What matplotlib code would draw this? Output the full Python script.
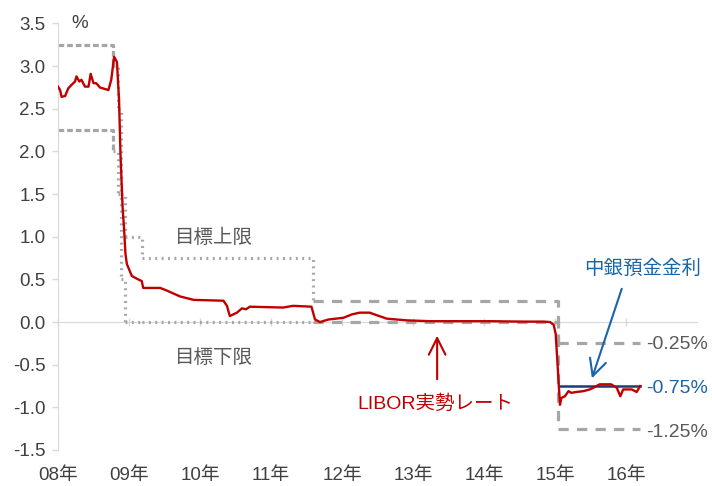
import matplotlib
matplotlib.use("Agg")
import matplotlib.pyplot as plt

plt.rcParams["font.family"] = ["Liberation Sans", "Noto Sans CJK JP", "DejaVu Sans"]

# LIBOR (3M CHF): decimal year, percent
libor_t = [2008.00, 2008.03, 2008.05, 2008.10, 2008.145, 2008.19, 2008.24, 2008.26, 2008.30,
           2008.33, 2008.38, 2008.43, 2008.46, 2008.50, 2008.54, 2008.59, 2008.71, 2008.75,
           2008.79, 2008.83, 2008.86, 2008.88, 2008.91, 2008.93, 2008.95, 2008.97, 2009.04,
           2009.13, 2009.18, 2009.20, 2009.44, 2009.53, 2009.72, 2009.91, 2010.33, 2010.38,
           2010.42, 2010.52, 2010.59, 2010.65, 2010.70, 2011.17, 2011.31, 2011.57, 2011.62,
           2011.69, 2011.81, 2012.02, 2012.14, 2012.25, 2012.39, 2012.49, 2012.63, 2012.91,
           2013.24, 2013.62, 2014.09, 2014.55, 2014.84, 2014.93, 2014.98, 2015.01, 2015.05,
           2015.07, 2015.09, 2015.14, 2015.19, 2015.23, 2015.30, 2015.40, 2015.49, 2015.54,
           2015.63, 2015.79, 2015.87, 2015.92, 2015.96, 2016.08, 2016.15, 2016.20]
libor_v = [2.76, 2.72, 2.64, 2.65, 2.74, 2.78, 2.82, 2.88, 2.82,
           2.84, 2.76, 2.76, 2.91, 2.80, 2.80, 2.75, 2.72, 2.84,
           3.11, 3.05, 2.60, 1.97, 1.34, 1.10, 0.80, 0.68, 0.54,
           0.50, 0.48, 0.40, 0.40, 0.37, 0.30, 0.26, 0.25, 0.19,
           0.07, 0.11, 0.16, 0.15, 0.18, 0.17, 0.19, 0.18, 0.03,
           0.00, 0.03, 0.05, 0.09, 0.11, 0.11, 0.08, 0.04, 0.02,
           0.01, 0.01, 0.01, 0.005, 0.005, 0.00, -0.03, -0.14, -0.69,
           -0.97, -0.89, -0.87, -0.81, -0.83, -0.82, -0.81, -0.79, -0.77,
           -0.73, -0.73, -0.77, -0.87, -0.79, -0.79, -0.82, -0.75]

# SNB target range changes
range_dates = [2008.00, 2008.77, 2008.85, 2008.89, 2008.94, 2009.19, 2011.59, 2015.04]
upper_lvls = [3.25, 3.00, 2.50, 1.50, 1.00, 0.75, 0.25, -0.25]
lower_lvls = [2.25, 2.00, 1.50, 0.50, 0.00, 0.00, 0.00, -1.25]
range_end = 2016.20

# sight deposit rate
deposit_t = [2015.05, 2016.20]
deposit_v = [-0.75, -0.75]

year_ticks = [2008, 2009, 2010, 2011, 2012, 2013, 2014, 2015, 2016]
year_labels = ["08年", "09年", "10年", "11年", "12年", "13年", "14年", "15年", "16年"]
y_ticks = [-1.5, -1.0, -0.5, 0.0, 0.5, 1.0, 1.5, 2.0, 2.5, 3.0, 3.5]

GRAY = "#A6A6A6"
AXIS = "#D9D9D9"
RED = "#C00000"
BLUE = "#1A64AA"
NAVY = "#1F3B70"
TXT = "#404040"


def period_style(i):
    if i == 0:
        return dict(linestyle=(0, (1.8, 0.9)))
    if i < 6:
        return dict(linestyle=(0, (0.6, 1.4)))
    return dict(linestyle=(0, (3.2, 2.6)))


fig = plt.figure(figsize=(7.12, 4.86), dpi=100)
ax = fig.add_axes([58 / 712, 36 / 486, 639 / 712, 426.5 / 486])
ymin, ymax = -1.5, 3.5
ax.set_xlim(2008, 2017)
ax.set_ylim(ymin, ymax)

# target range step lines
for lvls in (upper_lvls, lower_lvls):
    for i in range(len(range_dates)):
        x0 = range_dates[i]
        x1 = range_dates[i + 1] if i + 1 < len(range_dates) else range_end
        xs = [x0, x1]
        ys = [lvls[i], lvls[i]]
        if i + 1 < len(range_dates):
            xs.append(x1)
            ys.append(lvls[i + 1])
        ax.plot(xs, ys, color=GRAY, lw=2.3, solid_capstyle="butt",
                dash_capstyle="butt", zorder=2, **period_style(i))

ax.plot(deposit_t, deposit_v, color=NAVY, lw=1.8, zorder=3)
ax.plot(libor_t, libor_v, color=RED, lw=1.7, zorder=4)

# zero axis with tick marks, labels kept at the bottom
zero_ax = ax.secondary_xaxis((0 - ymin) / (ymax - ymin))
zero_ax.set_xticks(year_ticks)
zero_ax.tick_params(axis="x", direction="inout", length=6, width=1, color=AXIS,
                    labelbottom=False, labeltop=False)
for s in zero_ax.spines.values():
    s.set_color(AXIS)

ax.set_xticks(year_ticks)
ax.set_xticklabels(year_labels)
ax.set_yticks(y_ticks)
ax.set_yticklabels([f"{v:.1f}" for v in y_ticks])
ax.tick_params(axis="x", length=0, pad=12, labelsize=13.5, labelcolor=TXT)
ax.tick_params(axis="y", length=4, width=1, color=AXIS, pad=5, labelsize=13.5, labelcolor=TXT)
for side in ("top", "right", "bottom"):
    ax.spines[side].set_visible(False)
ax.spines["left"].set_color(AXIS)

ax.text(2008.3, 3.5, "%", ha="center", va="center", fontsize=13.5, color=TXT)
ax.text(2010.2, 0.99, "目標上限", ha="center", va="center", fontsize=14, color="#595959")
ax.text(2010.2, -0.42, "目標下限", ha="center", va="center", fontsize=14, color="#595959")
ax.text(2013.31, -0.96, "LIBOR実勢レート", ha="center", va="center", fontsize=14, color=RED)
ax.text(2016.24, 0.62, "中銀預金金利", ha="center", va="center", fontsize=14, color=BLUE)

ax.annotate("", xy=(2013.34, -0.16), xytext=(2013.34, -0.67),
            arrowprops=dict(arrowstyle="->,head_length=0.8,head_width=0.4",
                            color=RED, lw=1.5, mutation_scale=15, shrinkA=0, shrinkB=0))
ax.annotate("", xy=(2015.52, -0.66), xytext=(2015.94, 0.39),
            arrowprops=dict(arrowstyle="->,head_length=0.8,head_width=0.4",
                            color=BLUE, lw=1.5, mutation_scale=15, shrinkA=0, shrinkB=0))

ax.text(2016.29, -0.26, "-0.25%", ha="left", va="center", fontsize=14, color="#595959", clip_on=False)
ax.text(2016.29, -0.78, "-0.75%", ha="left", va="center", fontsize=14, color=BLUE, clip_on=False)
ax.text(2016.29, -1.30, "-1.25%", ha="left", va="center", fontsize=14, color="#595959", clip_on=False)

fig.savefig("out.png", dpi=100)
